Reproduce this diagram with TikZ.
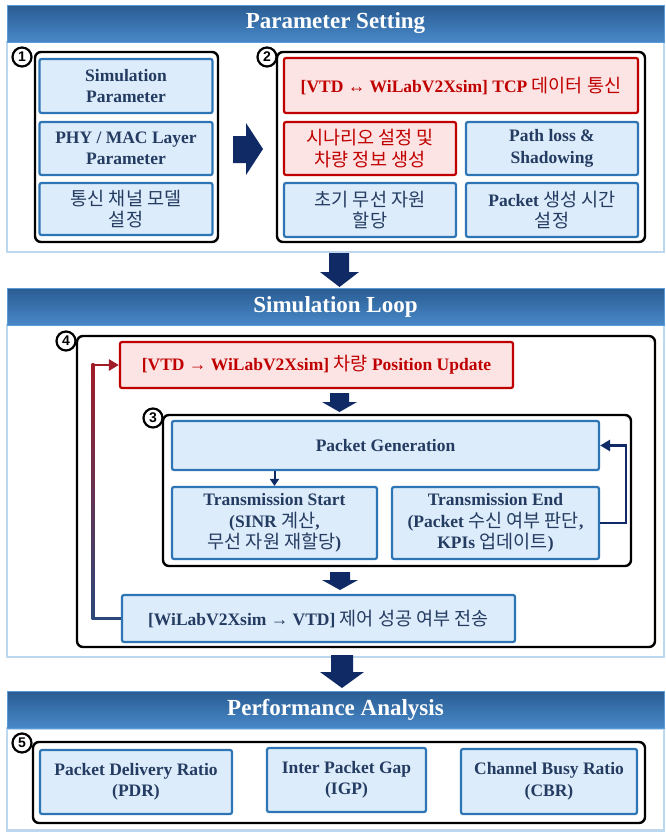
\documentclass[tikz,border=0pt]{standalone}
\usepackage{fontspec}
\setmainfont{Liberation Serif}
\setsansfont{Liberation Sans}
\newfontfamily\kr[Scale=1.06]{Noto Sans CJK KR}
\newcommand{\ko}[1]{{\kr\mdseries #1}}
\usepackage{tikz}
\usetikzlibrary{positioning}
\usetikzlibrary{arrows.meta}
\usetikzlibrary{calc}
\definecolor{boxline}{RGB}{46,117,182}
\definecolor{boxfill}{RGB}{221,236,250}
\definecolor{boxtext}{RGB}{36,60,98}
\definecolor{redline}{RGB}{192,0,0}
\definecolor{redfill}{RGB}{252,228,228}
\definecolor{redtext}{RGB}{192,0,0}
\definecolor{panelline}{RGB}{189,215,238}
\definecolor{hdtop}{RGB}{42,92,146}
\definecolor{hdmid}{RGB}{34,84,138}
\definecolor{hdbot}{RGB}{72,136,200}
\definecolor{hdedge}{RGB}{91,155,213}
\definecolor{navy}{RGB}{16,42,102}
\definecolor{lpred}{RGB}{162,28,40}
\definecolor{lpblue}{RGB}{42,72,122}

\begin{document}
\begin{tikzpicture}[x=1pt,y=-1pt,
	bbox/.style={draw=boxline,line width=2.2pt,fill=boxfill,rounded corners=2pt,align=center,text=boxtext,inner sep=0pt,font=\bfseries\fontsize{17.5}{21.5}\selectfont},
	rbox/.style={bbox,draw=redline,fill=redfill,text=redtext},
	grpbox/.style={draw=black,line width=2.4pt,rounded corners=6pt,fill=white},
	numdot/.style={circle,draw=black,line width=2.2pt,fill=white,minimum size=19pt,inner sep=0pt,font=\sffamily\bfseries\fontsize{14}{14}\selectfont},
	hdband/.style={top color=hdtop,middle color=hdmid,bottom color=hdbot,draw=hdedge,line width=1pt,text=white,font=\bfseries\fontsize{23}{23}\selectfont,inner sep=0pt,minimum width=657pt,minimum height=37pt},
	secpanel/.style={draw=panelline,line width=2.5pt,fill=white,minimum width=657pt,inner sep=0pt},
	blkarrow/.style={fill=navy},
	fbline/.style={draw=navy,line width=2.6pt,-{Triangle[length=10pt,width=11pt]}},
	lpline/.style={line width=2.6pt}]
		\useasboundingbox (0,0) rectangle (666,833);

		\node[secpanel,minimum height=210pt] (panA) at (335.5,147) {};
		\node[hdband] (hdA) at (335.5,23.5) {Parameter Setting};
		\node[grpbox,minimum width=183pt,minimum height=190pt] (grpA) at (126.5,147) {};
		\node[numdot] (nA) at (22,57) {1};
		\node[bbox,minimum width=173pt,minimum height=54pt] (simpar) at (126,86) {Simulation\\Parameter};
		\node[bbox,minimum width=173pt,minimum height=53pt] (phymac) at (126,148.5) {PHY / MAC Layer\\Parameter};
		\node[bbox,minimum width=173pt,minimum height=52pt] (chan) at (126,209) {\ko{통신 채널 모델}\\\ko{설정}};
		\fill[blkarrow] (233,136) -- (246,136) -- (246,123) -- (263,149) -- (246,175) -- (246,163) -- (233,163) -- cycle;
		\node[grpbox,minimum width=368pt,minimum height=190pt] (grpB) at (461,147) {};
		\node[numdot] (nB) at (267,57) {2};
		\node[rbox,minimum width=354pt,minimum height=55pt] (tcp) at (461,85.5) {[VTD ↔ WiLabV2Xsim] TCP \ko{데이터 통신}};
		\node[rbox,minimum width=172pt,minimum height=53pt] (scen) at (370,148.5) {\ko{시나리오 설정 및}\\\ko{차량 정보 생성}};
		\node[bbox,minimum width=172pt,minimum height=53pt] (ploss) at (552,148.5) {Path loss \&\\Shadowing};
		\node[bbox,minimum width=172pt,minimum height=54pt] (alloc) at (370,210) {\ko{초기 무선 자원}\\\ko{할당}};
		\node[bbox,minimum width=172pt,minimum height=54pt] (pktime) at (552,210) {Packet \ko{생성 시간}\\\ko{설정}};

		\fill[blkarrow] (329,253) -- (349,253) -- (349,272) -- (359,272) -- (339.5,287) -- (320,272) -- (329,272) -- cycle;

		\node[secpanel,minimum height=332pt] (panB) at (335.5,491) {};
		\node[hdband] (hdB) at (335.5,306.5) {Simulation Loop};
		\node[grpbox,minimum width=578pt,minimum height=311pt] (grpD) at (366,491.5) {};
		\node[numdot] (nD) at (66,341) {4};
		\node[rbox,minimum width=393pt,minimum height=46pt] (pos) at (316.5,365) {[VTD → WiLabV2Xsim] \ko{차량} Position Update};
		\fill[blkarrow] (330,393) -- (349,393) -- (349,402) -- (357,402) -- (339.5,412) -- (322,402) -- (330,402) -- cycle;
		\node[grpbox,minimum width=468pt,minimum height=151pt] (grpC) at (397,490.5) {};
		\node[numdot] (nC) at (153,418) {3};
		\node[bbox,minimum width=427pt,minimum height=49pt] (pgen) at (385.5,445.5) {Packet Generation};
		\node[bbox,minimum width=205pt,minimum height=72pt] (tstart) at (274.5,523) {Transmission Start\\(SINR \ko{계산},\\\ko{무선 자원 재할당})};
		\node[bbox,minimum width=207pt,minimum height=72pt] (tend) at (495.5,523) {Transmission End\\(Packet \ko{수신 여부 판단},\\KPIs \ko{업데이트})};
		\draw[navy,line width=2pt,-{Triangle[length=7pt,width=9pt]}] (pgen.south -| tstart.north) to (tstart.north);
		\draw[fbline] (tend.east) -- ++(26,0) |- (pgen.east);
		\fill[blkarrow] (330,572) -- (350,572) -- (350,580) -- (358,580) -- (340,590) -- (322,580) -- (330,580) -- cycle;
		\node[bbox,minimum width=393pt,minimum height=47pt] (wilab) at (318.5,618.5) {[WiLabV2Xsim → VTD] \ko{제어 성공 여부 전송}};
		\coordinate (lpx) at (93,0);
		\draw[lpline,draw=lpblue] (wilab.west) -- ($(wilab.west -| lpx)+(-1.3,0)$);
		\shade[bottom color=lpblue,top color=lpred] ($(pos.west -| lpx)+(-1.3,-1.3)$) rectangle ($(wilab.west -| lpx)+(1.3,1.3)$);
		\draw[lpline,draw=lpred,-{Triangle[length=10pt,width=11pt]}] ($(pos.west -| lpx)+(-1.3,0)$) -- (pos.west);

		\fill[blkarrow] (331,655) -- (353,655) -- (353,672) -- (364,672) -- (342,688) -- (320,672) -- (331,672) -- cycle;

		\node[secpanel,minimum height=102pt] (panC) at (335.5,779.5) {};
		\node[hdband] (hdC) at (335.5,709.5) {Performance Analysis};
		\node[grpbox,minimum width=612pt,minimum height=81pt] (grpE) at (339,782.5) {};
		\node[numdot] (nE) at (22,743) {5};
		\node[bbox,minimum width=192pt,minimum height=64pt] (pdr) at (136,782) {Packet Delivery Ratio\\(PDR)};
		\node[bbox,minimum width=159pt,minimum height=64pt] (igp) at (346.5,780) {Inter Packet Gap\\(IGP)};
		\node[bbox,minimum width=176pt,minimum height=65pt] (cbr) at (549,781.5) {Channel Busy Ratio\\(CBR)};
	\end{tikzpicture}
\end{document}
